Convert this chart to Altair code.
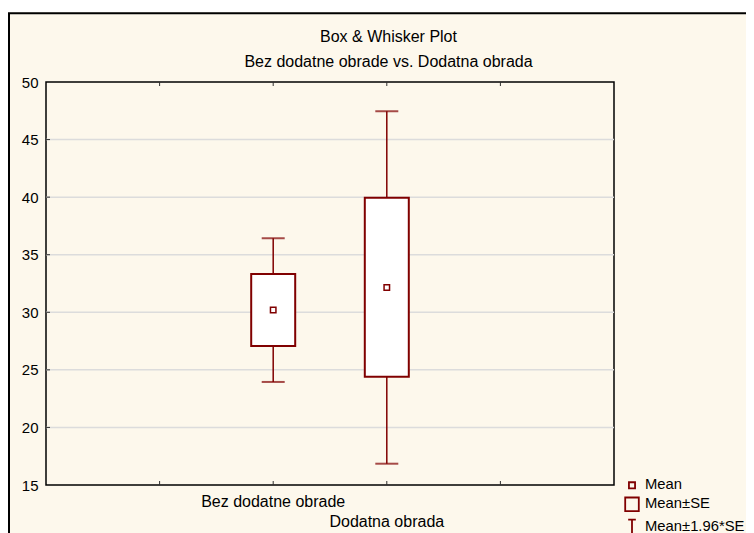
import altair as alt
import pandas as pd

# ---- data ----
categories = ["Bez dodatne obrade", "Dodatna obrada"]
mean_vals = [30.2, 32.15]
se_low = [27.07, 24.41]
se_high = [33.33, 39.95]
ci_low = [23.95, 16.85]
ci_high = [36.43, 47.46]

x_slots = ["_s0", "_s1", categories[0], categories[1], "_s4", "_s5"]
y_ticks = [15, 20, 25, 30, 35, 40, 45, 50]
grid_vals = [20, 25, 30, 35, 40, 45]
legend_labels = ["Mean", "Mean\u00b1SE", "Mean\u00b11.96*SE"]
title_text = "Box & Whisker Plot"
subtitle_text = "Bez dodatne obrade vs. Dodatna obrada"

# ---- style ----
W, H = 568, 403
RED = "#800000"
FONT = "Liberation Sans"
FS = 16
BG = "#fdf8ec"

df = pd.DataFrame({
    "cat": categories, "mean": mean_vals,
    "se_low": se_low, "se_high": se_high,
    "ci_low": ci_low, "ci_high": ci_high,
})
grid_df = pd.DataFrame({"v": grid_vals})
ytick_df = pd.DataFrame({"v": y_ticks[1:-1]})
xtick_df = pd.DataFrame({"slot": x_slots[1:-1]})
leg_df = pd.DataFrame({"series": legend_labels})
one = pd.DataFrame({"k": [0]})

xscale = alt.Scale(domain=x_slots, type="point", padding=0)
yscale = alt.Scale(domain=[15, 50], nice=False, zero=False)
y_axis = alt.Axis(values=y_ticks, grid=False, ticks=False, tickSize=0, domain=False,
                  labelPadding=8, labelFont=FONT, labelFontSize=15, labelColor="#000000",
                  title=None)


def Y(field):
    return alt.Y(field, type="quantitative", scale=yscale, axis=y_axis)


def X(field):
    return alt.X(field, type="nominal", scale=xscale, axis=None)


# outer frame and white strip above it
strip = alt.Chart(one).mark_rect(fill="white").encode(
    x=alt.value(-38), x2=alt.value(800), y=alt.value(-74), y2=alt.value(-69.7))
frame = alt.Chart(one).mark_rect(fillOpacity=0, stroke="black", strokeWidth=2).encode(
    x=alt.value(-37), x2=alt.value(800), y=alt.value(-68.7), y2=alt.value(620))

grid = alt.Chart(grid_df).mark_rule(color="#dcdcdc", strokeWidth=1.5).encode(
    y=Y("v"), x=alt.value(0), x2=alt.value(W))

whisk = alt.Chart(df).mark_rule(color=RED, strokeWidth=1.5).encode(
    x=X("cat"), y=Y("ci_low"), y2="ci_high")
cap_lo = alt.Chart(df).mark_tick(color=RED, size=23, thickness=2).encode(
    x=X("cat"), y=Y("ci_low"))
cap_hi = alt.Chart(df).mark_tick(color=RED, size=23, thickness=2).encode(
    x=X("cat"), y=Y("ci_high"))
box = alt.Chart(df).mark_bar(size=44, fill="white", stroke=RED, strokeWidth=2).encode(
    x=X("cat"), y=Y("se_low"), y2="se_high")
mean_pt = alt.Chart(df).mark_square(size=30, fill="white", stroke=RED, strokeWidth=1.5,
                                    opacity=1).encode(x=X("cat"), y=Y("mean"))

# inward ticks
ytk = alt.Chart(ytick_df).mark_rule(color="#303030", strokeWidth=1).encode(
    y=Y("v"), x=alt.value(0), x2=alt.value(4))
xtk_b = alt.Chart(xtick_df).mark_rule(color="#303030", strokeWidth=1).encode(
    x=X("slot"), y=alt.value(H - 4), y2=alt.value(H))
xtk_t = alt.Chart(xtick_df).mark_rule(color="#303030", strokeWidth=1).encode(
    x=X("slot"), y=alt.value(0), y2=alt.value(4))

# staggered category labels
lab1 = alt.Chart(df).transform_filter(alt.datum.cat == categories[0]).mark_text(
    font=FONT, fontSize=FS, baseline="middle", align="center", color="black").encode(
    x=X("cat"), y=alt.value(H + 17), text="cat:N")
lab2 = alt.Chart(df).transform_filter(alt.datum.cat == categories[1]).mark_text(
    font=FONT, fontSize=FS, baseline="middle", align="center", color="black").encode(
    x=X("cat"), y=alt.value(H + 37), text="cat:N")

# titles
t1 = alt.Chart(pd.DataFrame({"t": [title_text]})).mark_text(
    font=FONT, fontSize=FS, baseline="middle", align="center", color="black").encode(
    x=alt.value(342.5), y=alt.value(-45.3), text="t:N")
t2 = alt.Chart(pd.DataFrame({"t": [subtitle_text]})).mark_text(
    font=FONT, fontSize=FS, baseline="middle", align="center", color="black").encode(
    x=alt.value(342.5), y=alt.value(-20.3), text="t:N")

# legend
whisker_path = "M-0.45,-0.9H0.45M0,-0.9V0.9M-0.7,0.9H0.7"
small_sq = "M-0.36,-0.36H0.36V0.36H-0.36Z"
big_sq = "M-0.8,-0.8H0.8V0.8H-0.8Z"
leg = alt.Chart(leg_df).mark_point(opacity=0, filled=False, color=RED).encode(
    shape=alt.Shape("series:N",
                    scale=alt.Scale(domain=legend_labels, range=[small_sq, big_sq, whisker_path]),
                    legend=alt.Legend(title=None, orient="none", legendX=576.5, legendY=393.8,
                                      padding=0, symbolSize=289, symbolStrokeColor=RED,
                                      symbolFillColor="transparent", symbolStrokeWidth=1.8,
                                      symbolOpacity=1, labelFont=FONT, labelFontSize=14.8,
                                      labelColor="black", labelOffset=3.5, rowPadding=1,
                                      labelLimit=300)))

chart = alt.layer(
    strip, frame, grid, whisk, cap_lo, cap_hi, box, mean_pt,
    ytk, xtk_b, xtk_t, lab1, lab2, t1, t2, leg
).properties(
    width=W, height=H,
    padding={"left": 38, "top": 74, "right": 132, "bottom": 48},
    autosize="none",
    background=BG,
).configure_view(fill="white", stroke="black", strokeWidth=1.5)

chart.save("out.html", embed_options={"renderer": "svg", "actions": False})
